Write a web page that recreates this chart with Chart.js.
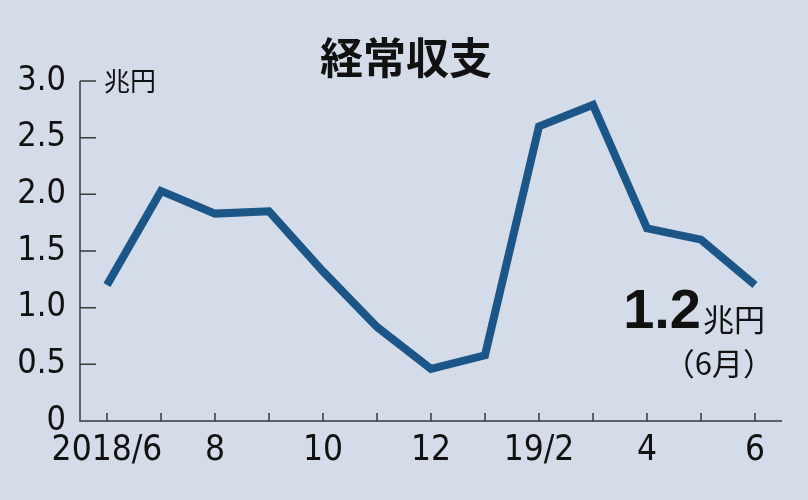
<!DOCTYPE html>
<html>
<head>
<meta charset="utf-8">
<script src="https://cdn.jsdelivr.net/npm/chart.js@4/dist/chart.umd.min.js"></script>
<style>
  html, body { margin: 0; padding: 0; background: #d3dce8; }
  #wrap { width: 808px; height: 500px; position: relative; }
</style>
</head>
<body>
<div id="wrap"><canvas id="chart"></canvas></div>
<script>
// データ（2018/6〜2019/6、兆円）
const months = ['2018/6', '2018/7', '2018/8', '2018/9', '2018/10', '2018/11', '2018/12',
  '2019/1', '2019/2', '2019/3', '2019/4', '2019/5', '2019/6'];
const xTickLabels = ['2018/6', '', '8', '', '10', '', '12', '', '19/2', '', '4', '', '6'];
const balance = [1.2, 2.03, 1.83, 1.85, 1.32, 0.83, 0.46, 0.58, 2.6, 2.79, 1.7, 1.6, 1.2];
const yTicks = [0, 0.5, 1.0, 1.5, 2.0, 2.5, 3.0];

const numFont = "'Liberation Sans Narrow', 'DejaVu Sans Condensed', 'Liberation Sans', sans-serif";
const jpFont = "'Noto Sans CJK JP', sans-serif";
const axisColor = '#3a3a3a';

// 内向きの目盛りと文字
const decor = {
  id: 'decor',
  afterDraw(chart) {
    const c = chart.ctx;
    const x = chart.scales.x, y = chart.scales.y;
    const left = x.left, bottom = y.bottom;
    c.save();
    c.strokeStyle = axisColor;
    c.lineWidth = 1.5;
    c.beginPath();
    // 軸線
    c.moveTo(left, y.getPixelForValue(3.0));
    c.lineTo(left, bottom);
    c.lineTo(x.right, bottom);
    // y目盛り
    yTicks.forEach(v => {
      if (v === 0) return;
      const py = y.getPixelForValue(v);
      c.moveTo(left, py);
      c.lineTo(left + 16, py);
    });
    // x目盛り
    months.forEach((m, i) => {
      const px = x.getPixelForValue(i);
      c.moveTo(px, bottom);
      c.lineTo(px, bottom - 8);
    });
    c.stroke();

    c.fillStyle = '#111';
    c.textBaseline = 'middle';
    // タイトル
    c.textAlign = 'center';
    c.font = 'bold 43px ' + jpFont;
    c.fillText('経常収支', 406, 58);
    // 単位
    c.textAlign = 'left';
    c.font = '26px ' + jpFont;
    c.fillText('兆円', 104, 81);
    // 最新値
    const last = balance[balance.length - 1];
    c.textAlign = 'right';
    c.font = '31px ' + jpFont;
    c.fillText('兆円', 765, 319);
    const w = c.measureText('兆円').width;
    c.font = "bold 56px 'Liberation Sans', Arial, sans-serif";
    c.fillText(last.toFixed(1), 765 - w - 2, 313);
    c.font = '31px ' + jpFont;
    c.fillText('（6月）', 774, 363);
    c.restore();
  }
};

new Chart(document.getElementById('chart'), {
  type: 'line',
  data: {
    labels: months,
    datasets: [{
      data: balance,
      borderColor: '#1c5588',
      borderWidth: 8,
      pointRadius: 0,
      tension: 0,
      borderJoinStyle: 'miter',
      fill: false
    }]
  },
  options: {
    responsive: true,
    maintainAspectRatio: false,
    animation: false,
    layout: { padding: { top: 81, right: 26, left: 0, bottom: 0 } },
    plugins: { legend: { display: false }, tooltip: { enabled: false } },
    scales: {
      x: {
        offset: true,
        grid: { display: false, drawTicks: false },
        border: { display: false },
        afterFit(s) { s.height = 79; },
        ticks: {
          autoSkip: false,
          maxRotation: 0,
          padding: 9,
          color: '#111',
          font: { family: numFont, size: 35 },
          callback: (v, i) => xTickLabels[i]
        }
      },
      y: {
        min: 0,
        max: 3.0,
        grid: { display: false, drawTicks: false },
        border: { display: false },
        afterFit(s) { s.width = 80; },
        afterBuildTicks(s) { s.ticks = yTicks.map(v => ({ value: v })); },
        ticks: {
          padding: 14,
          color: '#111',
          font: { family: numFont, size: 34 },
          callback: v => v === 0 ? '0' : v.toFixed(1)
        }
      }
    }
  },
  plugins: [decor]
});
</script>
</body>
</html>
